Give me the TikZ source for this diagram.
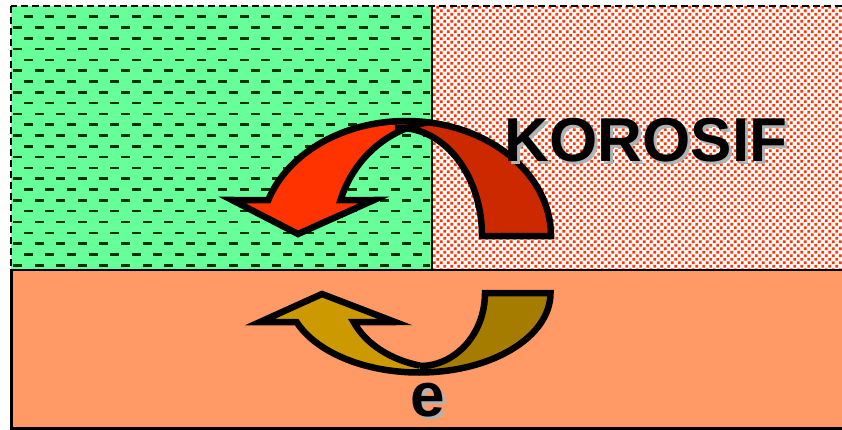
\documentclass[tikz,border=0pt]{standalone}
\usepackage{fontspec}
\setmainfont{Liberation Sans}
\usepackage{tikz}
\usetikzlibrary{patterns}
\definecolor{grn}{HTML}{66FF99}
\definecolor{org}{HTML}{FF9966}
\definecolor{rlite}{HTML}{FF3300}
\definecolor{rdark}{HTML}{CC2900}
\definecolor{glite}{HTML}{CC9900}
\definecolor{gdark}{HTML}{A67C00}
\pgfdeclarepatternformonly{redspeck}{\pgfpointorigin}{\pgfpoint{7.4pt}{7.4pt}}{\pgfpoint{7.4pt}{7.4pt}}{%
  \pgfpathrectangle{\pgfpoint{0.4pt}{0.4pt}}{\pgfpoint{3pt}{3pt}}%
  \pgfpathrectangle{\pgfpoint{4.1pt}{4.1pt}}{\pgfpoint{3pt}{3pt}}%
  \pgfusepath{fill}}
\begin{document}
\begin{tikzpicture}[x=1pt,y=-1pt,rim/.style={line width=6.5pt,line join=miter},
  gdash/.style={line width=2.6pt,black!80!green,dash pattern=on 9pt off 12.6pt},
  frame/.style={line width=2.2pt,dash pattern=on 7pt off 4pt},
  word/.style={inner sep=0pt,font=\fontsize{62}{62}\selectfont\bfseries}]
\useasboundingbox[fill=white] (0,0) rectangle (842,430);
% green layer
\fill[grn] (11,6) rectangle (432,270);
\foreach \k in {1,...,24}{
  \pgfmathsetmacro\ph{mod(\k,2)*10.8}
  \draw[gdash,dash phase=\ph pt] (13,{6+10.8*\k}) -- (430,{6+10.8*\k});
}
\draw[frame] (11,6) rectangle (432,270);
% red layer
\fill[pattern=redspeck,pattern color=rlite] (432,6) rectangle (846,270);
\draw[frame] (432,6) rectangle (846,270);
% orange layer
\draw[line width=2.8pt,fill=org] (11.5,270) rectangle (850,428.8);
% red arrow
\fill[rdark] (482,236) -- (551,236) arc[start angle=0,end angle=-94.35,x radius=145,y radius=115] -- ([shift={(400,236)}]-93.5:82 and 108) arc[start angle=-93.5,end angle=0,x radius=82,y radius=108] -- cycle;
\fill[rlite] ([shift={(406,236)}]198.24:145 and 115) arc[start angle=198.24,end angle=278.6,x radius=145,y radius=115] -- ([shift={(445,236)}]261:110 and 115) arc[start angle=261,end angle=198.2,x radius=110,y radius=115] -- (374,200) -- (298,234) -- (232,200) -- cycle;
\draw[rim] ([shift={(400,236)}]-93.5:82 and 108) arc[start angle=-93.5,end angle=0,x radius=82,y radius=108] -- (551,236) arc[start angle=0,end angle=-161.76,x radius=145,y radius=115] -- (232,200) -- (298,234) -- (374,200) -- (340.5,200.1) arc[start angle=198.2,end angle=261,x radius=110,y radius=115];
% gold arrow
\fill[gdark] (485,293) -- (550.5,293) arc[start angle=0,end angle=89.56,x radius=131.5,y radius=79.5] -- (420,366) arc[start angle=90,end angle=0,x radius=65,y radius=73] -- cycle;
\fill[glite] ([shift={(419,293)}]158.6:131.5 and 79.5) arc[start angle=158.6,end angle=89.56,x radius=131.5,y radius=79.5] -- ([shift={(445,293)}]104.6:99 and 75) arc[start angle=104.6,end angle=157.2,x radius=99,y radius=75] -- (395,322) -- (322,294) -- (260,322) -- cycle;
\draw[rim] ([shift={(420,293)}]90:65 and 73) arc[start angle=90,end angle=0,x radius=65,y radius=73] -- (550.5,293) arc[start angle=0,end angle=158.6,x radius=131.5,y radius=79.5] -- (260,322) -- (322,294) -- (395,322) -- (353.7,322.1) arc[start angle=157.2,end angle=104.6,x radius=99,y radius=75];
% labels
\node[word,text=black!30] (korsh) at (649,143) {KOROSIF};
\node[word] (kor) at (646,140) {KOROSIF};
\node[word,text=black!30] (esh) at (431,403) {e};
\node[word] (e) at (428,400) {e};
\end{tikzpicture}
\end{document}
